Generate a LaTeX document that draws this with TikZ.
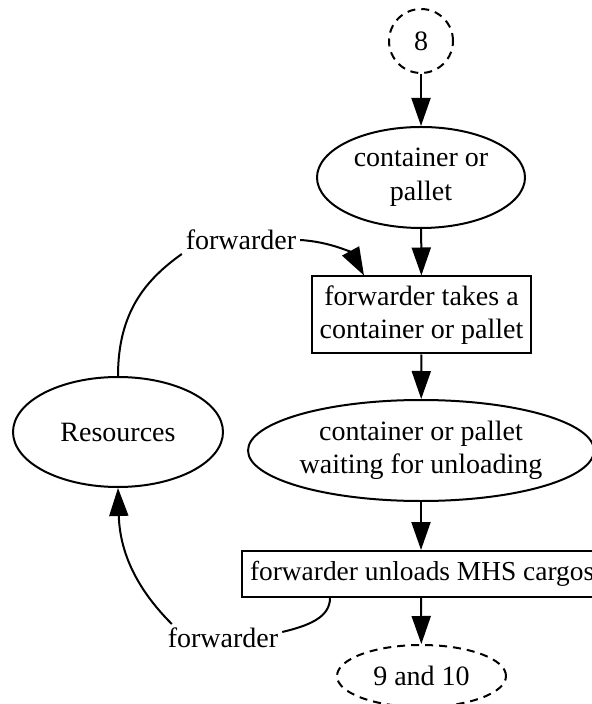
\documentclass[tikz,border=0pt]{standalone}
\usepackage{fontspec}
\setmainfont{Liberation Serif}
\usetikzlibrary{arrows.meta, shapes.geometric}

\begin{document}
\begin{tikzpicture}[
    x=0.5pt, y=-0.5pt,
    line width=1pt,
    font=\fontsize{14}{16.8}\selectfont,
    >={Triangle[length=14pt, width=9.5pt]}, % big filled heads
    state/.style={ellipse, draw, inner sep=0pt, align=center},
    dashed state/.style={state, dash pattern=on 4pt off 3pt},
    activity/.style={rectangle, draw, inner sep=0pt, align=center},
    flow/.style={->},
    flow label/.style={inner sep=1.5pt}
]

    % === Page frame ===
    \useasboundingbox (0,0) rectangle (592,704);

    % === Main column ===
    \node[dashed state, circle, minimum size=32pt] (n8) at (421,41) {8};
    \node[state, minimum width=104pt, minimum height=50.5pt] (pallet) at (421,177.5)
        {container or\\pallet};
    \node[activity, minimum width=109.5pt, minimum height=38.5pt] (takes) at (421.5,315)
        {forwarder takes a\\container or pallet};
    \node[state, minimum width=173pt, minimum height=50.5pt] (waiting) at (421,450.5)
        {container or pallet\\waiting for unloading};
    \node[activity, minimum width=179pt, minimum height=23pt] (unloads) at (421,574) {};
    % text sits a little left of the box centre, as in the original
    \node[anchor=west, inner sep=0pt, font=\fontsize{13.7}{16}\selectfont] (unloadsText)
        at ([xshift=4pt]unloads.west) {forwarder unloads MHS cargos};
    \node[dashed state, minimum width=84.5pt, minimum height=31pt] (n910) at (421.5,676)
        {9 and 10};

    % === Resources and its labels ===
    \node[state, minimum width=105pt, minimum height=55pt] (res) at (118,432) {Resources};
    \node[flow label] (lblA) at (241,240) {forwarder};
    \node[flow label] (lblB) at (223,638) {forwarder};

    % === Straight flow ===
    \draw[flow] (n8) -- (pallet);
    \draw[flow] (pallet) -- (takes);
    \draw[flow] (takes) -- (waiting);
    \draw[flow] (waiting) -- (unloads);
    \draw[flow] (unloads) -- (n910);

    % === Resource loop ===
    \draw (res.north) .. controls +(0,-65) and +(-35,25) .. (lblA.south west);
    \draw[flow] (lblA.east) .. controls +(32,2) and +(-12,-22) .. ([xshift=26.5pt]takes.north west);

    \draw ([xshift=-45.5pt]unloads.south) .. controls +(0,20) and +(25,-6) .. ([yshift=3pt]lblB.east);
    \draw[flow] ([xshift=4pt]lblB.north west) .. controls +(-30,-30) and +(2,70) .. (res.south);

\end{tikzpicture}
\end{document}
